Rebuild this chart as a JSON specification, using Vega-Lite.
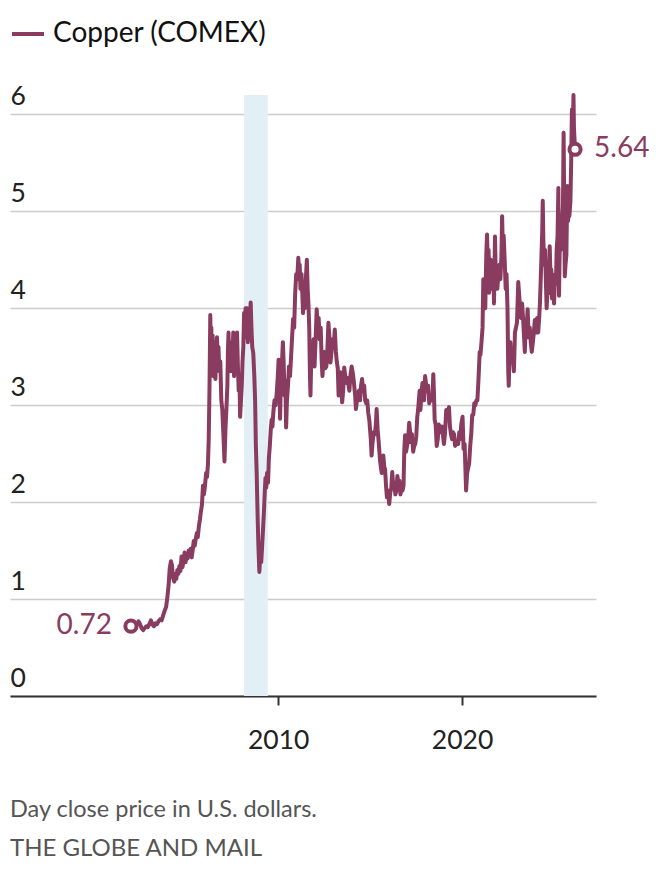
{
  "$schema": "https://vega.github.io/schema/vega-lite/v6.json",
  "width": 586,
  "height": 601,
  "autosize": {"type": "none"},
  "padding": {"left": 10, "top": 95, "right": 64, "bottom": 178},
  "config": {
    "font": "Lato",
    "view": {"stroke": null},
    "legend": {"orient": "none", "legendX": 0, "legendY": -79, "title": null, "labelFontSize": 28, "labelColor": "#111", "labelLimit": 0, "symbolStrokeWidth": 4, "symbolSize": 1024, "labelOffset": 7}
  },
  "title": {
    "text": "Day close price in U.S. dollars.",
    "subtitle": "THE GLOBE AND MAIL",
    "orient": "bottom",
    "anchor": "start",
    "fontSize": 23.5,
    "fontWeight": "normal",
    "color": "#555555",
    "subtitleFontSize": 24,
    "subtitleColor": "#555555",
    "subtitlePadding": 16,
    "offset": 44
  },
  "datasets": {
    "copper": [
      {"date": "2002-01-01", "price": 0.72},
      {"date": "2002-02-01", "price": 0.71},
      {"date": "2002-03-01", "price": 0.75},
      {"date": "2002-04-01", "price": 0.73},
      {"date": "2002-05-01", "price": 0.74},
      {"date": "2002-06-01", "price": 0.77},
      {"date": "2002-07-01", "price": 0.74},
      {"date": "2002-08-01", "price": 0.70},
      {"date": "2002-09-01", "price": 0.68},
      {"date": "2002-10-01", "price": 0.70},
      {"date": "2002-11-01", "price": 0.72},
      {"date": "2002-12-01", "price": 0.71},
      {"date": "2003-01-01", "price": 0.74},
      {"date": "2003-02-01", "price": 0.78},
      {"date": "2003-03-01", "price": 0.74},
      {"date": "2003-04-01", "price": 0.72},
      {"date": "2003-05-01", "price": 0.75},
      {"date": "2003-06-01", "price": 0.74},
      {"date": "2003-07-01", "price": 0.77},
      {"date": "2003-08-01", "price": 0.79},
      {"date": "2003-09-01", "price": 0.78},
      {"date": "2003-10-01", "price": 0.83},
      {"date": "2003-11-01", "price": 0.88},
      {"date": "2003-12-01", "price": 0.92},
      {"date": "2003-12-25", "price": 1.02},
      {"date": "2004-01-20", "price": 1.15},
      {"date": "2004-02-10", "price": 1.32},
      {"date": "2004-03-05", "price": 1.39},
      {"date": "2004-03-25", "price": 1.35},
      {"date": "2004-04-15", "price": 1.22},
      {"date": "2004-05-10", "price": 1.18},
      {"date": "2004-06-01", "price": 1.26},
      {"date": "2004-06-20", "price": 1.21},
      {"date": "2004-07-10", "price": 1.30},
      {"date": "2004-08-01", "price": 1.26},
      {"date": "2004-08-20", "price": 1.34},
      {"date": "2004-09-10", "price": 1.29},
      {"date": "2004-10-01", "price": 1.44},
      {"date": "2004-10-20", "price": 1.33},
      {"date": "2004-11-10", "price": 1.40},
      {"date": "2004-12-01", "price": 1.48},
      {"date": "2004-12-20", "price": 1.38},
      {"date": "2005-01-10", "price": 1.45},
      {"date": "2005-02-01", "price": 1.42},
      {"date": "2005-02-20", "price": 1.50},
      {"date": "2005-03-10", "price": 1.46},
      {"date": "2005-04-01", "price": 1.52},
      {"date": "2005-04-20", "price": 1.43},
      {"date": "2005-05-10", "price": 1.50},
      {"date": "2005-06-01", "price": 1.60},
      {"date": "2005-06-20", "price": 1.55},
      {"date": "2005-07-10", "price": 1.62},
      {"date": "2005-08-01", "price": 1.68},
      {"date": "2005-08-20", "price": 1.64},
      {"date": "2005-09-10", "price": 1.75},
      {"date": "2005-10-01", "price": 1.82},
      {"date": "2005-10-20", "price": 1.90},
      {"date": "2005-11-10", "price": 1.97},
      {"date": "2005-12-01", "price": 2.17},
      {"date": "2005-12-20", "price": 2.08},
      {"date": "2006-01-10", "price": 2.17},
      {"date": "2006-02-01", "price": 2.30},
      {"date": "2006-02-20", "price": 2.26},
      {"date": "2006-03-10", "price": 2.40},
      {"date": "2006-03-25", "price": 2.65},
      {"date": "2006-04-10", "price": 3.20},
      {"date": "2006-04-25", "price": 3.93},
      {"date": "2006-05-05", "price": 3.55},
      {"date": "2006-05-15", "price": 3.80},
      {"date": "2006-05-30", "price": 3.35},
      {"date": "2006-06-10", "price": 3.72},
      {"date": "2006-06-25", "price": 3.30},
      {"date": "2006-07-10", "price": 3.65},
      {"date": "2006-07-25", "price": 3.40},
      {"date": "2006-08-05", "price": 3.27},
      {"date": "2006-08-20", "price": 3.55},
      {"date": "2006-09-05", "price": 3.70},
      {"date": "2006-09-20", "price": 3.40},
      {"date": "2006-10-05", "price": 3.60},
      {"date": "2006-10-20", "price": 3.35},
      {"date": "2006-11-10", "price": 3.45},
      {"date": "2006-11-30", "price": 3.05},
      {"date": "2006-12-20", "price": 2.95},
      {"date": "2007-01-10", "price": 2.70},
      {"date": "2007-02-01", "price": 2.42},
      {"date": "2007-02-20", "price": 2.75},
      {"date": "2007-03-10", "price": 2.95},
      {"date": "2007-03-30", "price": 3.20},
      {"date": "2007-04-10", "price": 3.55},
      {"date": "2007-04-22", "price": 3.75},
      {"date": "2007-05-05", "price": 3.40},
      {"date": "2007-05-20", "price": 3.65},
      {"date": "2007-06-05", "price": 3.35},
      {"date": "2007-06-20", "price": 3.62},
      {"date": "2007-07-05", "price": 3.40},
      {"date": "2007-07-25", "price": 3.75},
      {"date": "2007-08-10", "price": 3.30},
      {"date": "2007-08-25", "price": 3.55},
      {"date": "2007-09-10", "price": 3.35},
      {"date": "2007-09-25", "price": 3.65},
      {"date": "2007-10-08", "price": 3.75},
      {"date": "2007-10-25", "price": 3.40},
      {"date": "2007-11-10", "price": 3.15},
      {"date": "2007-11-25", "price": 3.30},
      {"date": "2007-12-08", "price": 2.88},
      {"date": "2007-12-25", "price": 3.05},
      {"date": "2008-01-10", "price": 3.20},
      {"date": "2008-01-25", "price": 3.45},
      {"date": "2008-02-10", "price": 3.60},
      {"date": "2008-02-25", "price": 3.95},
      {"date": "2008-03-10", "price": 3.80},
      {"date": "2008-03-25", "price": 4.00},
      {"date": "2008-04-10", "price": 3.70},
      {"date": "2008-04-25", "price": 4.00},
      {"date": "2008-05-10", "price": 3.65},
      {"date": "2008-05-25", "price": 3.85},
      {"date": "2008-06-10", "price": 3.70},
      {"date": "2008-06-25", "price": 3.95},
      {"date": "2008-07-05", "price": 4.06},
      {"date": "2008-07-20", "price": 3.80},
      {"date": "2008-08-05", "price": 3.60},
      {"date": "2008-08-25", "price": 3.54},
      {"date": "2008-09-15", "price": 3.30},
      {"date": "2008-10-01", "price": 3.05},
      {"date": "2008-10-15", "price": 2.60},
      {"date": "2008-11-01", "price": 2.30},
      {"date": "2008-11-20", "price": 1.85},
      {"date": "2008-12-05", "price": 1.55},
      {"date": "2008-12-24", "price": 1.28},
      {"date": "2009-01-10", "price": 1.45},
      {"date": "2009-01-30", "price": 1.38},
      {"date": "2009-02-15", "price": 1.52},
      {"date": "2009-03-10", "price": 1.75},
      {"date": "2009-03-25", "price": 1.90},
      {"date": "2009-04-10", "price": 2.10},
      {"date": "2009-04-25", "price": 2.25},
      {"date": "2009-05-10", "price": 2.15},
      {"date": "2009-05-25", "price": 2.30},
      {"date": "2009-06-15", "price": 2.20},
      {"date": "2009-07-01", "price": 2.45},
      {"date": "2009-07-20", "price": 2.58},
      {"date": "2009-08-08", "price": 2.75},
      {"date": "2009-08-25", "price": 2.85},
      {"date": "2009-09-10", "price": 2.78},
      {"date": "2009-09-28", "price": 2.93},
      {"date": "2009-10-20", "price": 3.05},
      {"date": "2009-11-10", "price": 3.00},
      {"date": "2009-12-05", "price": 3.13},
      {"date": "2009-12-25", "price": 3.30},
      {"date": "2010-01-10", "price": 3.47},
      {"date": "2010-01-25", "price": 3.30},
      {"date": "2010-02-08", "price": 2.86},
      {"date": "2010-02-25", "price": 3.25},
      {"date": "2010-03-15", "price": 3.40},
      {"date": "2010-04-05", "price": 3.65},
      {"date": "2010-04-20", "price": 3.45},
      {"date": "2010-05-08", "price": 3.10},
      {"date": "2010-05-25", "price": 3.25},
      {"date": "2010-06-08", "price": 2.77},
      {"date": "2010-06-25", "price": 3.05},
      {"date": "2010-07-15", "price": 3.20},
      {"date": "2010-08-05", "price": 3.40},
      {"date": "2010-08-25", "price": 3.30},
      {"date": "2010-09-15", "price": 3.50},
      {"date": "2010-10-05", "price": 3.70},
      {"date": "2010-10-25", "price": 3.89},
      {"date": "2010-11-15", "price": 3.80},
      {"date": "2010-12-05", "price": 4.15},
      {"date": "2010-12-25", "price": 4.35},
      {"date": "2011-01-15", "price": 4.30},
      {"date": "2011-02-05", "price": 4.52},
      {"date": "2011-02-20", "price": 4.40},
      {"date": "2011-03-05", "price": 4.45},
      {"date": "2011-03-20", "price": 4.20},
      {"date": "2011-04-10", "price": 4.35},
      {"date": "2011-04-25", "price": 4.16},
      {"date": "2011-05-10", "price": 3.95},
      {"date": "2011-05-25", "price": 4.10},
      {"date": "2011-06-15", "price": 4.00},
      {"date": "2011-07-05", "price": 4.30},
      {"date": "2011-07-25", "price": 4.50},
      {"date": "2011-08-10", "price": 4.20},
      {"date": "2011-08-25", "price": 4.05},
      {"date": "2011-09-10", "price": 3.80},
      {"date": "2011-09-25", "price": 3.30},
      {"date": "2011-10-05", "price": 3.10},
      {"date": "2011-10-25", "price": 3.60},
      {"date": "2011-11-10", "price": 3.45},
      {"date": "2011-12-05", "price": 3.68},
      {"date": "2011-12-25", "price": 3.40},
      {"date": "2012-01-20", "price": 3.75},
      {"date": "2012-02-05", "price": 3.99},
      {"date": "2012-02-25", "price": 3.80},
      {"date": "2012-03-15", "price": 3.90},
      {"date": "2012-04-05", "price": 3.68},
      {"date": "2012-04-25", "price": 3.80},
      {"date": "2012-05-15", "price": 3.45},
      {"date": "2012-05-30", "price": 3.30},
      {"date": "2012-06-15", "price": 3.45},
      {"date": "2012-07-05", "price": 3.55},
      {"date": "2012-07-25", "price": 3.38},
      {"date": "2012-08-15", "price": 3.40},
      {"date": "2012-09-05", "price": 3.58},
      {"date": "2012-09-25", "price": 3.85},
      {"date": "2012-10-15", "price": 3.70},
      {"date": "2012-11-05", "price": 3.44},
      {"date": "2012-11-25", "price": 3.55},
      {"date": "2012-12-15", "price": 3.68},
      {"date": "2013-01-10", "price": 3.62},
      {"date": "2013-01-30", "price": 3.78},
      {"date": "2013-02-20", "price": 3.55},
      {"date": "2013-03-10", "price": 3.45},
      {"date": "2013-03-30", "price": 3.38},
      {"date": "2013-04-15", "price": 3.10},
      {"date": "2013-05-05", "price": 3.30},
      {"date": "2013-05-20", "price": 3.34},
      {"date": "2013-06-05", "price": 3.20},
      {"date": "2013-06-25", "price": 3.03},
      {"date": "2013-07-15", "price": 3.15},
      {"date": "2013-08-05", "price": 3.39},
      {"date": "2013-08-25", "price": 3.30},
      {"date": "2013-09-15", "price": 3.23},
      {"date": "2013-10-05", "price": 3.28},
      {"date": "2013-10-25", "price": 3.22},
      {"date": "2013-11-15", "price": 3.15},
      {"date": "2013-12-05", "price": 3.30},
      {"date": "2013-12-30", "price": 3.40},
      {"date": "2014-01-20", "price": 3.34},
      {"date": "2014-02-10", "price": 3.25},
      {"date": "2014-03-10", "price": 3.10},
      {"date": "2014-03-25", "price": 2.96},
      {"date": "2014-04-15", "price": 3.05},
      {"date": "2014-05-05", "price": 3.10},
      {"date": "2014-05-25", "price": 3.15},
      {"date": "2014-06-15", "price": 3.05},
      {"date": "2014-07-05", "price": 3.20},
      {"date": "2014-07-25", "price": 3.27},
      {"date": "2014-08-15", "price": 3.15},
      {"date": "2014-09-05", "price": 3.20},
      {"date": "2014-09-25", "price": 3.05},
      {"date": "2014-10-15", "price": 3.02},
      {"date": "2014-11-05", "price": 3.05},
      {"date": "2014-11-25", "price": 2.92},
      {"date": "2014-12-15", "price": 2.85},
      {"date": "2015-01-15", "price": 2.65},
      {"date": "2015-01-30", "price": 2.48},
      {"date": "2015-02-20", "price": 2.62},
      {"date": "2015-03-15", "price": 2.72},
      {"date": "2015-04-05", "price": 2.70},
      {"date": "2015-04-25", "price": 2.80},
      {"date": "2015-05-10", "price": 2.96},
      {"date": "2015-05-30", "price": 2.75},
      {"date": "2015-06-20", "price": 2.62},
      {"date": "2015-07-15", "price": 2.44},
      {"date": "2015-08-05", "price": 2.35},
      {"date": "2015-08-20", "price": 2.30},
      {"date": "2015-09-05", "price": 2.40},
      {"date": "2015-09-20", "price": 2.48},
      {"date": "2015-10-10", "price": 2.36},
      {"date": "2015-10-25", "price": 2.34},
      {"date": "2015-11-15", "price": 2.15},
      {"date": "2015-12-01", "price": 2.05},
      {"date": "2015-12-20", "price": 2.12},
      {"date": "2016-01-15", "price": 1.98},
      {"date": "2016-02-05", "price": 2.10},
      {"date": "2016-02-25", "price": 2.14},
      {"date": "2016-03-15", "price": 2.31},
      {"date": "2016-04-05", "price": 2.15},
      {"date": "2016-04-25", "price": 2.20},
      {"date": "2016-05-15", "price": 2.08},
      {"date": "2016-06-05", "price": 2.12},
      {"date": "2016-06-25", "price": 2.27},
      {"date": "2016-07-15", "price": 2.20},
      {"date": "2016-08-05", "price": 2.22},
      {"date": "2016-08-25", "price": 2.08},
      {"date": "2016-09-15", "price": 2.14},
      {"date": "2016-10-05", "price": 2.12},
      {"date": "2016-10-25", "price": 2.17},
      {"date": "2016-11-10", "price": 2.55},
      {"date": "2016-11-25", "price": 2.69},
      {"date": "2016-12-15", "price": 2.52},
      {"date": "2017-01-10", "price": 2.60},
      {"date": "2017-01-30", "price": 2.70},
      {"date": "2017-02-15", "price": 2.82},
      {"date": "2017-03-05", "price": 2.72},
      {"date": "2017-03-20", "price": 2.62},
      {"date": "2017-04-10", "price": 2.70},
      {"date": "2017-05-05", "price": 2.52},
      {"date": "2017-05-25", "price": 2.58},
      {"date": "2017-06-15", "price": 2.60},
      {"date": "2017-07-05", "price": 2.68},
      {"date": "2017-07-25", "price": 2.88},
      {"date": "2017-08-10", "price": 2.95},
      {"date": "2017-08-30", "price": 3.08},
      {"date": "2017-09-10", "price": 3.15},
      {"date": "2017-09-25", "price": 2.95},
      {"date": "2017-10-15", "price": 3.12},
      {"date": "2017-11-05", "price": 3.23},
      {"date": "2017-11-20", "price": 3.05},
      {"date": "2017-12-05", "price": 3.05},
      {"date": "2017-12-28", "price": 3.30},
      {"date": "2018-01-15", "price": 3.22},
      {"date": "2018-02-05", "price": 3.15},
      {"date": "2018-02-25", "price": 3.20},
      {"date": "2018-03-20", "price": 3.02},
      {"date": "2018-04-15", "price": 3.10},
      {"date": "2018-05-05", "price": 3.05},
      {"date": "2018-05-25", "price": 3.10},
      {"date": "2018-06-08", "price": 3.32},
      {"date": "2018-06-20", "price": 3.15},
      {"date": "2018-07-05", "price": 2.85},
      {"date": "2018-07-25", "price": 2.80},
      {"date": "2018-08-15", "price": 2.58},
      {"date": "2018-09-05", "price": 2.65},
      {"date": "2018-09-25", "price": 2.80},
      {"date": "2018-10-15", "price": 2.78},
      {"date": "2018-11-05", "price": 2.72},
      {"date": "2018-11-25", "price": 2.78},
      {"date": "2018-12-15", "price": 2.70},
      {"date": "2019-01-05", "price": 2.60},
      {"date": "2019-01-25", "price": 2.70},
      {"date": "2019-02-20", "price": 2.95},
      {"date": "2019-03-15", "price": 2.90},
      {"date": "2019-04-15", "price": 2.98},
      {"date": "2019-05-05", "price": 2.78},
      {"date": "2019-05-25", "price": 2.70},
      {"date": "2019-06-15", "price": 2.65},
      {"date": "2019-07-05", "price": 2.72},
      {"date": "2019-07-25", "price": 2.70},
      {"date": "2019-08-15", "price": 2.58},
      {"date": "2019-09-05", "price": 2.60},
      {"date": "2019-09-25", "price": 2.62},
      {"date": "2019-10-15", "price": 2.60},
      {"date": "2019-11-05", "price": 2.72},
      {"date": "2019-11-25", "price": 2.65},
      {"date": "2019-12-15", "price": 2.80},
      {"date": "2020-01-10", "price": 2.88},
      {"date": "2020-01-30", "price": 2.55},
      {"date": "2020-02-20", "price": 2.60},
      {"date": "2020-03-20", "price": 2.12},
      {"date": "2020-04-10", "price": 2.30},
      {"date": "2020-04-30", "price": 2.35},
      {"date": "2020-05-20", "price": 2.40},
      {"date": "2020-06-10", "price": 2.58},
      {"date": "2020-06-30", "price": 2.70},
      {"date": "2020-07-20", "price": 2.90},
      {"date": "2020-08-10", "price": 2.90},
      {"date": "2020-08-30", "price": 3.02},
      {"date": "2020-09-20", "price": 3.00},
      {"date": "2020-10-10", "price": 3.05},
      {"date": "2020-10-30", "price": 3.05},
      {"date": "2020-11-20", "price": 3.25},
      {"date": "2020-12-15", "price": 3.55},
      {"date": "2020-12-30", "price": 3.52},
      {"date": "2021-01-20", "price": 3.65},
      {"date": "2021-02-10", "price": 3.80},
      {"date": "2021-02-25", "price": 4.30},
      {"date": "2021-03-15", "price": 4.05},
      {"date": "2021-04-05", "price": 4.00},
      {"date": "2021-04-25", "price": 4.55},
      {"date": "2021-05-10", "price": 4.76},
      {"date": "2021-05-25", "price": 4.45},
      {"date": "2021-06-10", "price": 4.60},
      {"date": "2021-06-20", "price": 4.16},
      {"date": "2021-07-05", "price": 4.30},
      {"date": "2021-07-25", "price": 4.50},
      {"date": "2021-08-10", "price": 4.35},
      {"date": "2021-08-25", "price": 4.20},
      {"date": "2021-09-10", "price": 4.45},
      {"date": "2021-09-25", "price": 4.05},
      {"date": "2021-10-15", "price": 4.74},
      {"date": "2021-10-30", "price": 4.35},
      {"date": "2021-11-15", "price": 4.40},
      {"date": "2021-12-01", "price": 4.20},
      {"date": "2021-12-20", "price": 4.35},
      {"date": "2022-01-10", "price": 4.45},
      {"date": "2022-01-30", "price": 4.30},
      {"date": "2022-02-20", "price": 4.55},
      {"date": "2022-03-05", "price": 4.95},
      {"date": "2022-03-20", "price": 4.60},
      {"date": "2022-04-05", "price": 4.75},
      {"date": "2022-04-25", "price": 4.50},
      {"date": "2022-05-15", "price": 4.20},
      {"date": "2022-06-01", "price": 4.35},
      {"date": "2022-06-20", "price": 4.00},
      {"date": "2022-07-05", "price": 3.35},
      {"date": "2022-07-15", "price": 3.20},
      {"date": "2022-07-30", "price": 3.55},
      {"date": "2022-08-15", "price": 3.65},
      {"date": "2022-09-01", "price": 3.45},
      {"date": "2022-09-20", "price": 3.55},
      {"date": "2022-10-10", "price": 3.45},
      {"date": "2022-10-25", "price": 3.35},
      {"date": "2022-11-15", "price": 3.75},
      {"date": "2022-12-05", "price": 3.80},
      {"date": "2022-12-25", "price": 3.85},
      {"date": "2023-01-20", "price": 4.27},
      {"date": "2023-02-05", "price": 4.15},
      {"date": "2023-02-25", "price": 4.00},
      {"date": "2023-03-15", "price": 3.90},
      {"date": "2023-04-05", "price": 4.05},
      {"date": "2023-04-25", "price": 3.90},
      {"date": "2023-05-15", "price": 3.70},
      {"date": "2023-05-30", "price": 3.55},
      {"date": "2023-06-15", "price": 3.80},
      {"date": "2023-07-05", "price": 3.80},
      {"date": "2023-07-25", "price": 3.99},
      {"date": "2023-08-15", "price": 3.70},
      {"date": "2023-09-05", "price": 3.80},
      {"date": "2023-09-25", "price": 3.65},
      {"date": "2023-10-15", "price": 3.55},
      {"date": "2023-11-05", "price": 3.65},
      {"date": "2023-11-25", "price": 3.75},
      {"date": "2023-12-15", "price": 3.88},
      {"date": "2024-01-10", "price": 3.75},
      {"date": "2024-01-30", "price": 3.90},
      {"date": "2024-02-20", "price": 3.75},
      {"date": "2024-03-10", "price": 3.90},
      {"date": "2024-03-25", "price": 4.05},
      {"date": "2024-04-10", "price": 4.30},
      {"date": "2024-04-25", "price": 4.55},
      {"date": "2024-05-10", "price": 4.80},
      {"date": "2024-05-20", "price": 5.11},
      {"date": "2024-06-01", "price": 4.70},
      {"date": "2024-06-18", "price": 4.45},
      {"date": "2024-07-05", "price": 4.60},
      {"date": "2024-07-20", "price": 4.30},
      {"date": "2024-08-05", "price": 4.00},
      {"date": "2024-08-20", "price": 4.15},
      {"date": "2024-09-05", "price": 4.15},
      {"date": "2024-09-25", "price": 4.40},
      {"date": "2024-10-05", "price": 4.64},
      {"date": "2024-10-20", "price": 4.35},
      {"date": "2024-11-05", "price": 4.40},
      {"date": "2024-11-20", "price": 4.10},
      {"date": "2024-12-10", "price": 4.25},
      {"date": "2024-12-30", "price": 4.05},
      {"date": "2025-01-20", "price": 4.35},
      {"date": "2025-02-05", "price": 4.25},
      {"date": "2025-02-20", "price": 4.60},
      {"date": "2025-03-10", "price": 4.75},
      {"date": "2025-03-26", "price": 5.24},
      {"date": "2025-04-08", "price": 4.13},
      {"date": "2025-04-25", "price": 4.75},
      {"date": "2025-05-10", "price": 4.60},
      {"date": "2025-05-25", "price": 4.70},
      {"date": "2025-06-10", "price": 4.90},
      {"date": "2025-06-25", "price": 5.05},
      {"date": "2025-07-08", "price": 5.81},
      {"date": "2025-07-31", "price": 4.33},
      {"date": "2025-08-15", "price": 4.45},
      {"date": "2025-09-01", "price": 4.55},
      {"date": "2025-09-20", "price": 5.26},
      {"date": "2025-10-05", "price": 4.90},
      {"date": "2025-10-20", "price": 5.05},
      {"date": "2025-10-30", "price": 4.95},
      {"date": "2025-11-20", "price": 5.10},
      {"date": "2025-12-05", "price": 5.50},
      {"date": "2025-12-20", "price": 6.05},
      {"date": "2026-01-05", "price": 5.75},
      {"date": "2026-01-20", "price": 6.20},
      {"date": "2026-01-30", "price": 5.85},
      {"date": "2026-02-20", "price": 5.64}
    ],
    "ends": [
      {"date": "2002-01-01", "price": 0.72, "side": "start"},
      {"date": "2026-02-20", "price": 5.64, "side": "end"}
    ],
    "band": [
      {"start": "2008-02-25", "end": "2009-06-10"}
    ]
  },
  "layer": [
    {
      "data": {"name": "band"},
      "mark": {"type": "rect", "color": "#e2f0f5"},
      "encoding": {
        "x": {"field": "start", "type": "temporal"},
        "x2": {"field": "end"}
      }
    },
    {
      "data": {"name": "copper"},
      "mark": {"type": "line", "strokeWidth": 4, "strokeJoin": "round"},
      "encoding": {
        "x": {
          "field": "date", "type": "temporal",
          "scale": {"domain": [{"year": 1995, "month": 6, "date": 6}, {"year": 2027, "month": 4, "date": 12}], "nice": false},
          "axis": {
            "title": null, "grid": false, "format": "%Y",
            "values": [{"year": 2010, "month": 1, "date": 1}, {"year": 2020, "month": 1, "date": 1}],
            "domainColor": "#333333", "domainWidth": 2,
            "tickColor": "#333333", "tickWidth": 2, "tickSize": 9,
            "labelFontSize": 26.5, "labelColor": "#222222",
            "labelBaseline": "alphabetic", "labelPadding": 43
          }
        },
        "y": {
          "field": "price", "type": "quantitative",
          "scale": {"domain": [0, 6.2], "nice": false},
          "axis": {
            "title": null, "values": [0, 1, 2, 3, 4, 5, 6], "format": "d",
            "grid": true, "gridColor": "#cccccc", "gridWidth": 1.5,
            "domain": false, "ticks": false, "tickSize": 0,
            "labelAlign": "left", "labelBaseline": "alphabetic", "labelOffset": -10, "labelPadding": 0,
            "labelFontSize": 26.5, "labelColor": "#222222"
          }
        },
        "color": {"datum": "Copper (COMEX)", "type": "nominal", "scale": {"range": ["#893c5f"]}}
      }
    },
    {
      "data": {"name": "ends"},
      "mark": {"type": "point", "shape": "circle", "filled": true, "fill": "white", "stroke": "#893c5f", "strokeWidth": 4, "size": 125, "opacity": 1},
      "encoding": {
        "x": {"field": "date", "type": "temporal"},
        "y": {"field": "price", "type": "quantitative"}
      }
    },
    {
      "data": {"name": "ends"},
      "transform": [{"filter": "datum.side === 'start'"}],
      "mark": {"type": "text", "align": "right", "baseline": "middle", "dx": -19, "fontSize": 28, "color": "#893c5f"},
      "encoding": {
        "x": {"field": "date", "type": "temporal"},
        "y": {"field": "price", "type": "quantitative"},
        "text": {"field": "price", "type": "quantitative", "format": ".2f"}
      }
    },
    {
      "data": {"name": "ends"},
      "transform": [{"filter": "datum.side === 'end'"}],
      "mark": {"type": "text", "align": "left", "baseline": "middle", "dx": 19, "fontSize": 28, "color": "#893c5f"},
      "encoding": {
        "x": {"field": "date", "type": "temporal"},
        "y": {"field": "price", "type": "quantitative"},
        "text": {"field": "price", "type": "quantitative", "format": ".2f"}
      }
    }
  ]
}
